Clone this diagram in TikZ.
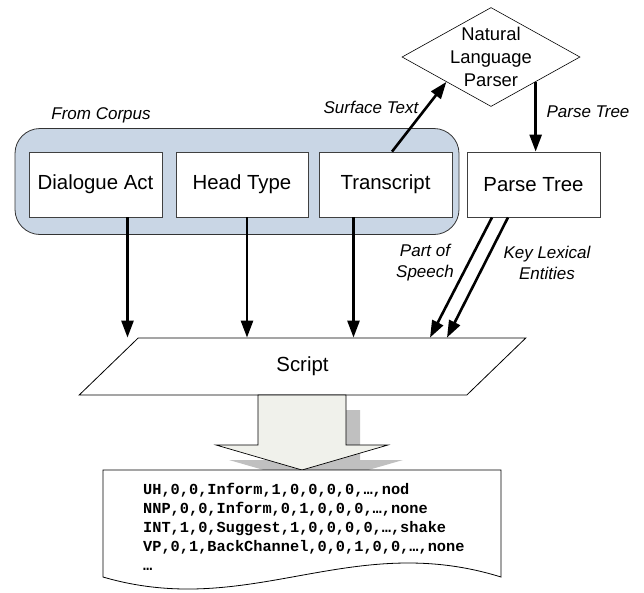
\documentclass[tikz,border=0pt]{standalone}
\usepackage{fontspec}
\setmainfont{Liberation Sans}
\newfontfamily\monob{Liberation Mono}
\usetikzlibrary{arrows.meta,shapes.geometric,calc}
\definecolor{corpusfill}{HTML}{C9D6E5}
\definecolor{arrowfill}{HTML}{F0F1EB}
\definecolor{shadowgray}{HTML}{C0C0C0}
\definecolor{edgegray}{HTML}{404040}
\begin{document}
\begin{tikzpicture}[x=1pt,y=-1pt,
 box/.style={draw=edgegray, line width=0.8pt, fill=white, minimum width=133pt, minimum height=65pt, inner sep=0pt, font=\fontsize{20.4}{24}\selectfont},
 lbl/.style={font=\fontsize{17}{21}\selectfont\itshape, align=center, inner sep=0pt},
 conn/.style={line width=2.6pt, -{Triangle[length=17pt,width=12pt]}},
]
\useasboundingbox (0,0) rectangle (644,592);

% container
\node[draw=black!80, line width=0.8pt, fill=corpusfill, rounded corners=25pt, minimum width=444pt, minimum height=106pt] (corpus) at (237,181.5) {};
\node[box] (da) at (95.5,184.5) {Dialogue Act};
\node[box, minimum width=132pt] (ht) at (242,184.5) {Head Type};
\node[box] (tr) at (385.5,184.5) {Transcript};
\node[box] (pt) at (533.5,184.5) {Parse Tree};

% parser
\node[diamond, draw=black, line width=0.6pt, minimum width=178pt, minimum height=99pt, inner sep=0pt] (parser) at (491,57) {};
\node[align=center, font=\fontsize{18.4}{23}\selectfont, inner sep=0pt] (parsertext) at (parser.center) {Natural\\Language\\Parser};

% script
\node[trapezium, trapezium left angle=63.8, trapezium right angle=116.2, trapezium stretches=true, draw, line width=0.8pt, fill=white, minimum width=447pt, minimum height=57pt, inner sep=0pt, font=\fontsize{20.4}{24}\selectfont] (script) at (302.5,366.5) {Script};

% big arrow with shadow
\fill[shadowgray] (272,410) -- (360,410) -- (360,460) -- (403,460) -- (316,485) -- (229,460) -- (272,460) -- cycle;
\draw[fill=arrowfill, line width=0.7pt] (258,395) -- (346,395) -- (346,445) -- (388,445) -- (302,470) -- (216,445) -- (258,445) -- cycle;

% document
\draw[fill=white, line width=0.8pt] (103,470) -- (501,470) -- (501,577) .. controls (350,530) and (250,620) .. (103,577) -- cycle;
\node[anchor=north west, align=left, inner sep=0pt, font=\monob\bfseries\fontsize{15.3}{19}\selectfont] (csv) at (143,483) {UH,0,0,Inform,1,0,0,0,0,…,nod\\NNP,0,0,Inform,0,1,0,0,0,…,none\\INT,1,0,Suggest,1,0,0,0,0,…,shake\\VP,0,1,BackChannel,0,0,1,0,0,…,none\\…};

% labels
\node[lbl] (fromcorpus) at (101,115) {From Corpus};
\node[lbl] (surfacelbl) at (371,107) {Surface Text};
\node[lbl] (parselbl) at (588,112) {Parse Tree};
\node[lbl] (poslbl) at (425,263) {Part of\\Speech};
\node[lbl] (keylbl) at (547,263) {Key Lexical\\Entities};

% connectors
\coordinate (pin) at ($(parser.west)!0.5!(parser.south)$);
\coordinate (pout) at ($(parser.east)!0.5!(parser.south)$);
\draw[conn] ([xshift=6.5pt]tr.north) -- (pin);
\draw[conn] (pout) -- (pout |- pt.north);
\draw[conn] ([xshift=32pt]da.south) -- ([xshift=32pt]da.south |- script.north);
\draw[conn] ([xshift=5pt]ht.south) -- ([xshift=5pt]ht.south |- script.north);
\draw[conn] ([xshift=-32pt]tr.south) -- ([xshift=-32pt]tr.south |- script.north);
\draw[conn] ([xshift=-41.5pt]pt.south) -- ([xshift=127.5pt]script.north);
\draw[conn] ([xshift=-25.5pt]pt.south) -- ([xshift=144.5pt]script.north);
\end{tikzpicture}
\end{document}
